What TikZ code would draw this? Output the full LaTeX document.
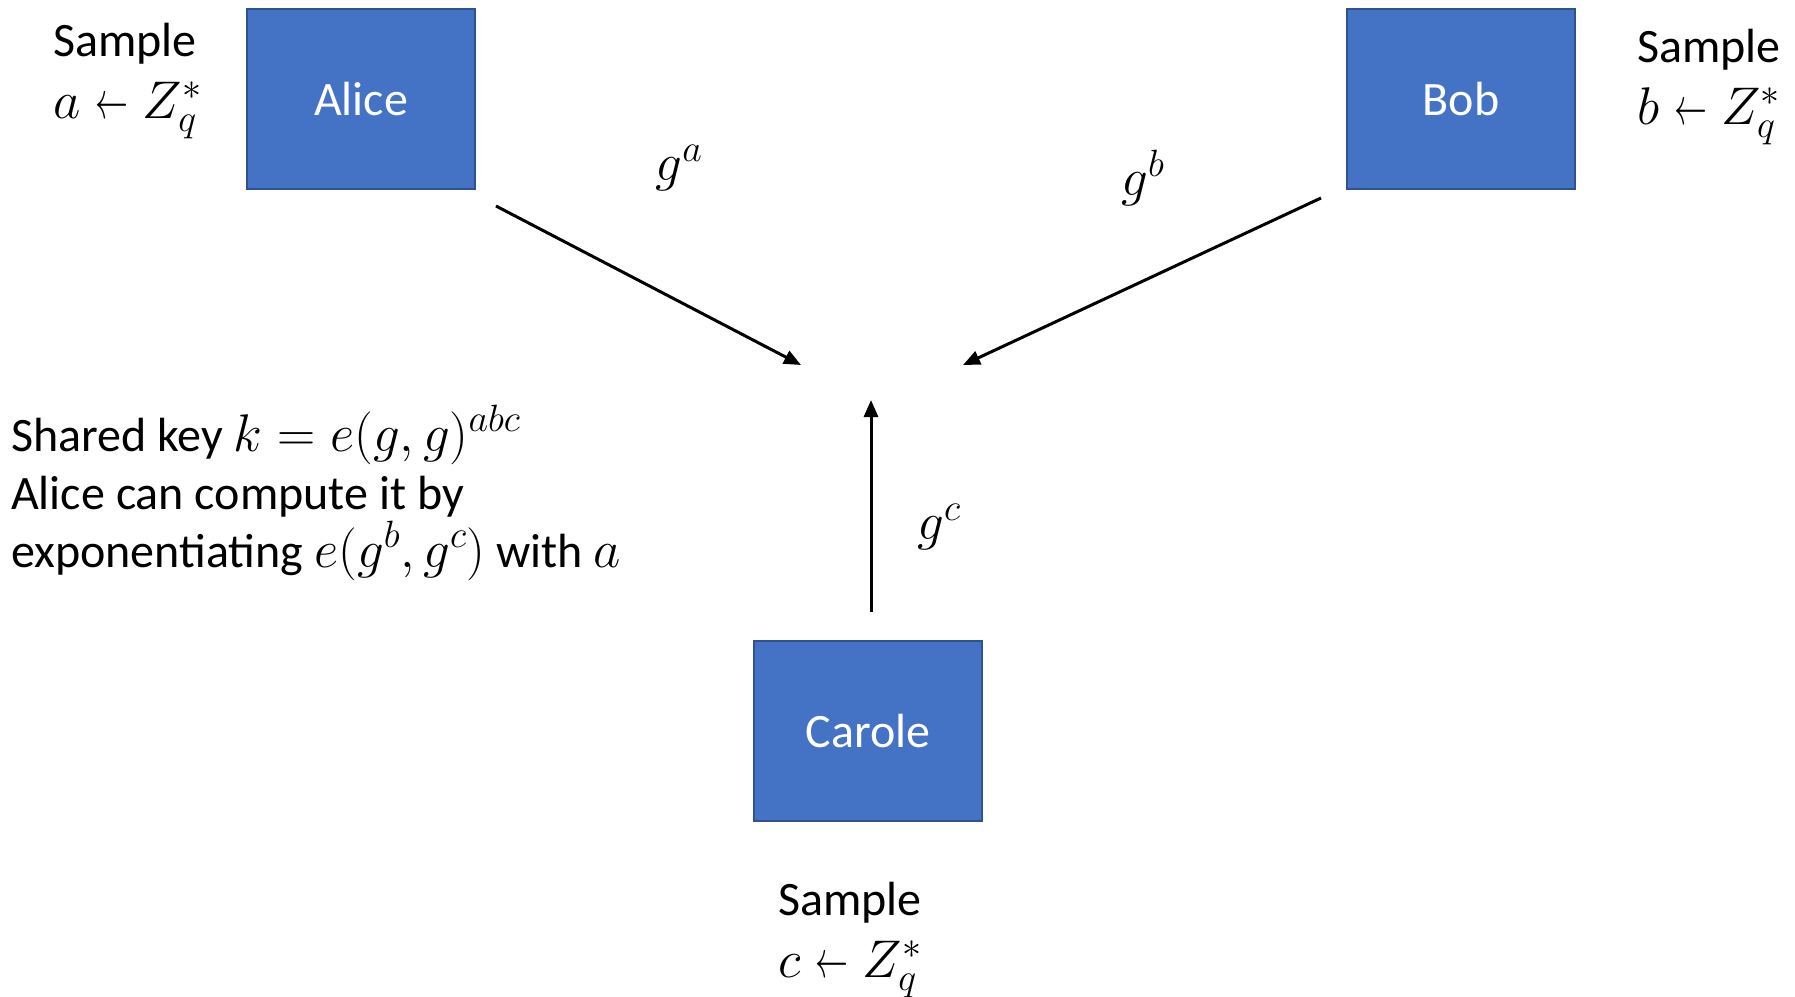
\RequirePackage{fix-cm}
\documentclass[tikz,border=0pt]{standalone}
\usepackage{fontspec}
\setmainfont{Carlito}
\DeclareMathSizes{48}{53}{38}{30}
\usetikzlibrary{arrows.meta}
\definecolor{boxfill}{HTML}{4472C4}
\definecolor{boxline}{HTML}{2F528F}
% a narrower "sampled from" arrow
\newcommand{\drawnfrom}{\mathrel{\scalebox{0.62}[1]{$\leftarrow$}}}
\begin{document}
\begin{tikzpicture}[x=1pt,y=-1pt,
  font=\fontsize{48}{58}\selectfont,
  party/.style={draw=boxline, line width=2pt, fill=boxfill, text=white,
    minimum width=228pt, minimum height=180pt, inner sep=0pt},
  msg/.style={-{Triangle[length=17pt,width=14pt]}, line width=3pt},
  note/.style={align=left, inner sep=0pt, anchor=west},
  sample/.style={note, font=\fontsize{48}{62}\selectfont},
  lbl/.style={inner sep=0pt}]
\useasboundingbox (0,0) rectangle (1795,996);

% the three parties
\node[party] (alice)  at (361,99)  {Alice};
\node[party] (bob)    at (1461,99) {Bob};
\node[party] (carole) at (868,731) {Carole};

% arrow heads meet near the centre
\coordinate (aEnd) at (801,365);
\coordinate (bEnd) at (963,365);
\coordinate (cEnd) at (871,400);

\draw[msg] ([shift={(20,16)}]alice.south east) -- (aEnd);
\draw[msg] ([shift={(-25,8)}]bob.south west) -- (bEnd);
\draw[msg] ([shift={(3,-28)}]carole.north) -- (cEnd);

% exchanged values
\node[lbl] (ga) at (679,168) {$g^a$};
\node[lbl] (gb) at (1143,178) {$g^b$};
\node[lbl] (gc) at (939,527) {$g^c$};

% sampled exponents
\node[sample] (sa) at (53,81)   {Sample\\$a \drawnfrom Z_q^*$};
\node[sample] (sb) at (1637,87) {Sample\\$b \drawnfrom Z_q^*$};
\node[sample] (sc) at (778,940) {Sample\\$c \drawnfrom Z_q^*$};

% shared key explanation
\node[note] (key) at (11,493) {Shared key $k = e(g,g)^{abc}$\\
  Alice can compute it by\\
  exponentiating $e(g^b,g^c)$ with $a$};
\end{tikzpicture}
\end{document}
